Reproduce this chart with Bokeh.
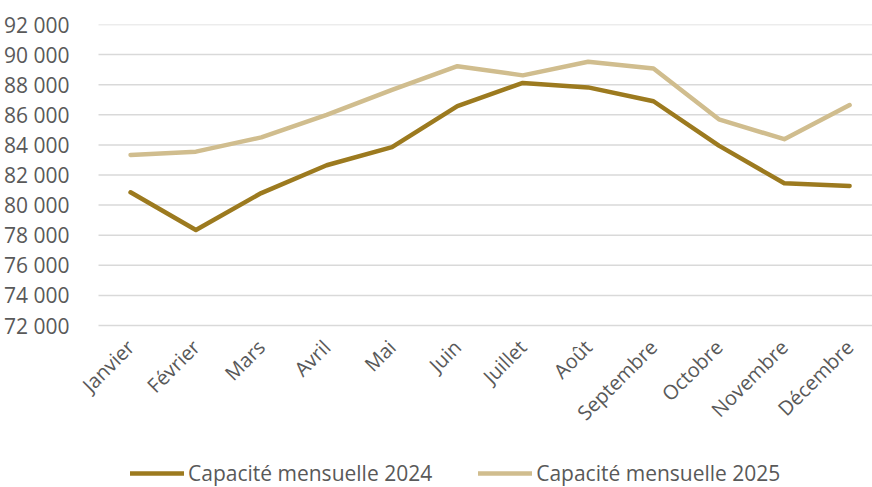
import math
from bokeh.plotting import figure
from bokeh.models import Range1d, FixedTicker, Legend, LegendItem, CustomJSTickFormatter, LinearAxis
from bokeh.embed import file_html
from bokeh.resources import INLINE

months = ["Janvier", "Février", "Mars", "Avril", "Mai", "Juin", "Juillet",
          "Août", "Septembre", "Octobre", "Novembre", "Décembre"]
cap_2024 = [80850, 78350, 80800, 82650, 83850, 86580, 88120, 87820, 86900, 83950, 81450, 81270]
cap_2025 = [83330, 83550, 84500, 85990, 87650, 89230, 88620, 89530, 89080, 85700, 84380, 86650]
y_ticks = [72000, 74000, 76000, 78000, 80000, 82000, 84000, 86000, 88000, 90000, 92000]

FONT = "Open Sans"
TXT = "#595959"
C24 = "#9C7A1F"
C25 = "#D0BD8E"
GRID = "#D9D9D9"

xs = list(range(len(months)))

# frame covers the plot area plus the space below it (for labels and legend)
FRAME_H = 463
AXIS_H = 301  # pixel height of the 72 000 - 92 000 span
y_lo, y_hi = y_ticks[0], y_ticks[-1]
y_start = y_hi - (y_hi - y_lo) * FRAME_H / AXIS_H

X_START, X_END = -0.796, 11.35      # visible x range (frame widened to the left for labels)
GRID_X0 = -0.49                     # where the plot area (gridlines) begins

p = figure(frame_width=794, frame_height=FRAME_H, output_backend="svg", toolbar_location=None,
           x_range=Range1d(X_START, X_END), y_range=Range1d(y_start, y_hi),
           min_border_left=78, min_border_right=0, min_border_top=24, min_border_bottom=0,
           x_axis_location=None)
p.outline_line_color = None
p.background_fill_color = "white"
p.border_fill_color = "white"
p.xgrid.grid_line_color = None
p.ygrid.grid_line_color = None

# horizontal gridlines of the plot area
p.segment(x0=[GRID_X0] * len(y_ticks), x1=[X_END] * len(y_ticks), y0=y_ticks, y1=y_ticks,
          line_color=GRID, line_width=1.5)

r24 = p.line(xs, cap_2024, line_color=C24, line_width=4.5, line_cap="round", line_join="round")
r25 = p.line(xs, cap_2025, line_color=C25, line_width=4.5, line_cap="round", line_join="round")

p.yaxis.ticker = FixedTicker(ticks=y_ticks)
p.yaxis.formatter = CustomJSTickFormatter(code="return tick.toLocaleString('en-US').replace(/,/g, ' ');")
p.yaxis.axis_line_color = None
p.yaxis.major_tick_line_color = None
p.yaxis.minor_tick_line_color = None
p.yaxis.major_label_standoff = 3
p.yaxis.major_label_text_font = FONT
p.yaxis.major_label_text_font_size = "21px"
p.yaxis.major_label_text_color = TXT

xaxis = LinearAxis(fixed_location=y_lo)
xaxis.ticker = FixedTicker(ticks=xs)
xaxis.major_label_overrides = {i: m for i, m in enumerate(months)}
xaxis.major_label_orientation = math.pi / 4
xaxis.axis_line_color = None
xaxis.major_tick_line_color = None
xaxis.minor_tick_line_color = None
xaxis.major_label_standoff = 12
xaxis.major_label_text_font = FONT
xaxis.major_label_text_font_size = "20px"
xaxis.major_label_text_color = TXT
p.add_layout(xaxis, "below")

legend = Legend(items=[LegendItem(label="Capacité mensuelle 2024", renderers=[r24]),
                       LegendItem(label="Capacité mensuelle 2025", renderers=[r25])],
                orientation="horizontal", location=(52, 0))
legend.border_line_color = None
legend.background_fill_alpha = 0
legend.label_text_font = FONT
legend.label_text_font_size = "21px"
legend.label_text_color = TXT
legend.glyph_width = 54
legend.label_standoff = 4
legend.spacing = 46
legend.margin = 0
legend.padding = 0
p.add_layout(legend, "center")

open("out.html", "w").write(file_html(p, INLINE))
